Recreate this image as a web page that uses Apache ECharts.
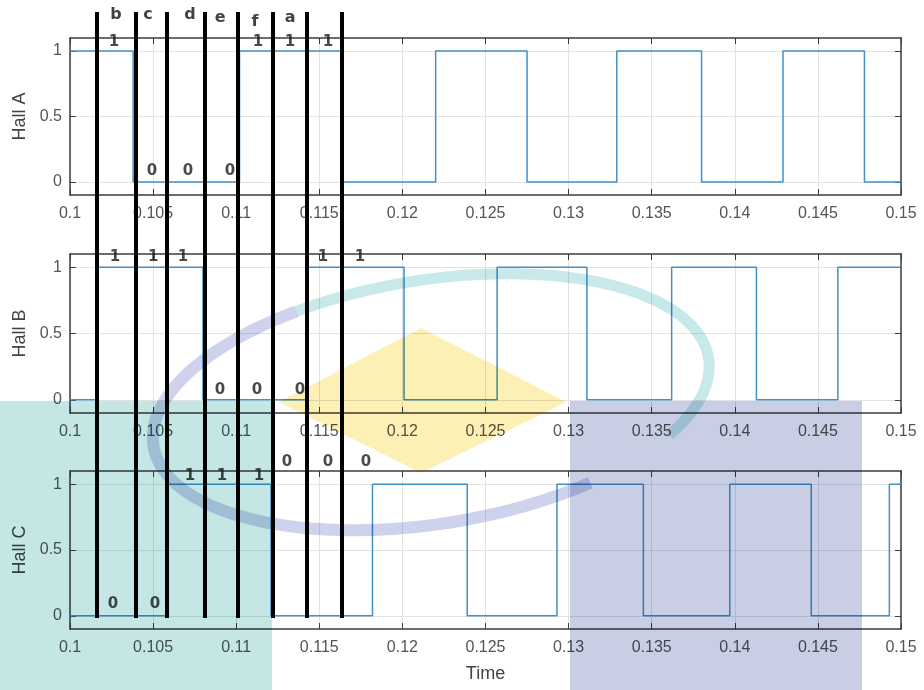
<!DOCTYPE html>
<html>
<head>
<meta charset="utf-8">
<script src="https://cdn.jsdelivr.net/npm/echarts@6/dist/echarts.min.js"></script>
<style>
  html, body { margin: 0; padding: 0; background: #fff; }
  #chart { width: 924px; height: 690px; }
</style>
</head>
<body>
<div id="chart"></div>
<script>
(function () {
  'use strict';

  // Hall sensor signals: time of each level change and the level held from there
  const hallATimes = [0.1, 0.1038, 0.1102, 0.1163, 0.1220, 0.1275, 0.1329, 0.1380, 0.1429, 0.1478, 0.15];
  const hallALevels = [1, 0, 1, 0, 1, 0, 1, 0, 1, 0, 0];
  const hallBTimes = [0.1, 0.1017, 0.1080, 0.1143, 0.1201, 0.1257, 0.1311, 0.1362, 0.1413, 0.1462, 0.15];
  const hallBLevels = [0, 1, 0, 1, 0, 1, 0, 1, 0, 1, 1];
  const hallCTimes = [0.1, 0.1059, 0.1121, 0.1182, 0.1239, 0.1293, 0.1345, 0.1397, 0.1446, 0.1493, 0.15];
  const hallCLevels = [0, 1, 0, 1, 0, 1, 0, 1, 0, 1, 1];

  const hallNames = ['Hall A', 'Hall B', 'Hall C'];
  const yTickValues = [0, 0.5, 1];

  // black cursor lines and the step letters between them
  const cursorTimes = [0.10162, 0.10397, 0.10584, 0.10812, 0.11011, 0.11221, 0.11426, 0.11637];
  const stepLetters = ['b', 'c', 'd', 'e', 'f', 'a'];
  const letterTimes = [0.10277, 0.10469, 0.10722, 0.10903, 0.11113, 0.11324];
  const letterLevels = [0.995, 0.995, 0.995, 0.991, 0.983, 0.991];

  // written 1/0 states
  const hallANoteTimes = [0.10265, 0.10493, 0.10710, 0.10963, 0.11131, 0.11324, 0.11552];
  const hallANoteLevels = [1.07, 0.08, 0.08, 0.08, 1.07, 1.07, 1.07];
  const hallANoteTexts = ['1', '0', '0', '0', '1', '1', '1'];
  const hallBNoteTimes = [0.10271, 0.10500, 0.10680, 0.10903, 0.11125, 0.11384, 0.11522, 0.11745];
  const hallBNoteLevels = [1.08, 1.08, 1.08, 0.07, 0.07, 0.07, 1.08, 1.08];
  const hallBNoteTexts = ['1', '1', '1', '0', '0', '0', '1', '1'];
  const hallCNoteTimes = [0.10259, 0.10511, 0.10722, 0.10915, 0.11137, 0.11306, 0.11552, 0.11781];
  const hallCNoteLevels = [0.09, 0.09, 1.06, 1.06, 1.06, 1.17, 1.17, 1.17];
  const hallCNoteTexts = ['0', '0', '1', '1', '1', '0', '0', '0'];

  const signals = [
    [hallATimes, hallALevels],
    [hallBTimes, hallBLevels],
    [hallCTimes, hallCLevels]
  ];
  const notes = [
    [hallANoteTimes, hallANoteLevels, hallANoteTexts],
    [hallBNoteTimes, hallBNoteLevels, hallBNoteTexts],
    [hallCNoteTimes, hallCNoteLevels, hallCNoteTexts]
  ];

  const font = '"Liberation Sans", Arial, sans-serif';
  const boxColor = '#3c3c3c';
  const labelColor = '#555';
  const gridColor = '#e3e3e3';
  const signalColor = '#4190c6';

  const grids = [
    { left: 70, right: 23, top: 38, height: 157 },
    { left: 70, right: 23, top: 254, height: 159 },
    { left: 70, right: 23, top: 471, height: 158 },
    { left: 70, right: 23, top: 12, bottom: 72 }
  ];

  const fmtX = v => String(parseFloat(v.toFixed(3)));

  const xAxis = [];
  const yAxis = [];
  for (let i = 0; i < 3; i++) {
    xAxis.push({
      gridIndex: i, type: 'value', min: 0.1, max: 0.15, interval: 0.005, position: 'bottom',
      axisLine: { onZero: false, lineStyle: { color: boxColor, width: 1.5 } },
      axisTick: { inside: true, length: 6, lineStyle: { color: boxColor } },
      axisLabel: { formatter: fmtX, color: labelColor, fontSize: 16, fontFamily: font, margin: 11 },
      splitLine: { show: true, lineStyle: { color: gridColor } },
      name: i === 2 ? 'Time' : '', nameLocation: 'middle', nameGap: 36,
      nameTextStyle: { color: '#444', fontSize: 18, fontFamily: font }
    });
  }
  for (let i = 0; i < 3; i++) {
    xAxis.push({
      gridIndex: i, type: 'value', min: 0.1, max: 0.15, interval: 0.005, position: 'top',
      axisLine: { onZero: false, lineStyle: { color: boxColor, width: 1.5 } },
      axisTick: { inside: true, length: 6, lineStyle: { color: boxColor } },
      axisLabel: { show: false }, splitLine: { show: false }
    });
  }
  xAxis.push({ gridIndex: 3, type: 'value', min: 0.1, max: 0.15, show: false });

  for (let i = 0; i < 3; i++) {
    yAxis.push({
      gridIndex: i, type: 'value', min: -0.1, max: 1.1, position: 'left',
      axisLine: { show: true, onZero: false, lineStyle: { color: boxColor, width: 1.5 } },
      axisTick: { show: true, inside: true, length: 6, customValues: yTickValues, lineStyle: { color: boxColor } },
      axisLabel: { customValues: yTickValues, color: labelColor, fontSize: 16, fontFamily: font, margin: 8 },
      splitLine: { show: true, customValues: yTickValues, lineStyle: { color: gridColor } },
      name: hallNames[i], nameLocation: 'middle', nameGap: 37, nameRotate: 90,
      nameTextStyle: { color: '#444', fontSize: 18, fontFamily: font }
    });
  }
  for (let i = 0; i < 3; i++) {
    yAxis.push({
      gridIndex: i, type: 'value', min: -0.1, max: 1.1, position: 'right',
      axisLine: { show: true, onZero: false, lineStyle: { color: boxColor, width: 1.5 } },
      axisTick: { show: true, inside: true, length: 6, customValues: yTickValues, lineStyle: { color: boxColor } },
      axisLabel: { show: false }, splitLine: { show: false }
    });
  }
  yAxis.push({ gridIndex: 3, type: 'value', min: 0, max: 1, show: false });

  const series = [];
  signals.forEach(([times, levels], i) => {
    series.push({
      type: 'line', xAxisIndex: i, yAxisIndex: i, step: 'end', showSymbol: false,
      lineStyle: { color: signalColor, width: 1.5 },
      data: times.map((t, k) => [t, levels[k]])
    });
  });
  notes.forEach(([times, levels, texts], i) => {
    series.push({
      type: 'scatter', xAxisIndex: i, yAxisIndex: i, symbolSize: 1, clip: false, z: 5,
      itemStyle: { color: 'transparent' },
      label: {
        show: true, position: 'inside', formatter: p => p.data[2],
        color: '#1c1c1c', fontSize: 15, fontWeight: 'bold', fontFamily: '"DejaVu Sans", sans-serif'
      },
      data: times.map((t, k) => [t, levels[k], texts[k]])
    });
  });
  series.push({
    type: 'scatter', xAxisIndex: 6, yAxisIndex: 6, symbolSize: 1, clip: false, z: 6,
    itemStyle: { color: 'transparent' },
    label: {
      show: true, position: 'inside', formatter: p => p.data[2],
      color: '#111', fontSize: 16, fontWeight: 'bold', fontFamily: '"DejaVu Sans", sans-serif'
    },
    data: letterTimes.map((t, k) => [t, letterLevels[k], stepLetters[k]]),
    markLine: {
      silent: true, symbol: 'none', animation: false, precision: 6,
      label: { show: false },
      lineStyle: { color: '#000', width: 4, type: 'solid' },
      data: cursorTimes.map(t => ({ xAxis: t }))
    }
  });

  // faded logo watermark multiplied over the figure
  function ringPoints(cx, cy, rx, ry, rotDeg, a0, a1) {
    const phi = rotDeg * Math.PI / 180;
    const pts = [];
    const step = a1 > a0 ? 2 : -2;
    for (let a = a0; step > 0 ? a <= a1 : a >= a1; a += step) {
      const th = a * Math.PI / 180;
      const x = rx * Math.cos(th), y = ry * Math.sin(th);
      pts.push([cx + x * Math.cos(phi) - y * Math.sin(phi), cy + x * Math.sin(phi) + y * Math.cos(phi)]);
    }
    return pts;
  }

  const graphic = [
    { type: 'rect', z: 100, silent: true, shape: { x: 0, y: 401, width: 272, height: 289 },
      style: { fill: '#c4e7e5', blend: 'multiply' } },
    { type: 'rect', z: 100, silent: true, shape: { x: 570, y: 401, width: 292, height: 289 },
      style: { fill: '#c8cfe4', blend: 'multiply' } },
    { type: 'polygon', z: 100, silent: true, shape: { points: [[421, 328], [566, 402], [421, 473], [279, 402]] },
      style: { fill: '#fcf0b4', blend: 'multiply' } },
    { type: 'polyline', z: 101, silent: true, shape: { points: ringPoints(431, 402, 281, 122, -9, -115, 35) },
      style: { stroke: '#c8e9e9', lineWidth: 11, fill: null, blend: 'multiply' } },
    { type: 'polyline', z: 101, silent: true, shape: { points: ringPoints(431, 402, 281, 122, -9, -115, -302) },
      style: { stroke: '#cfd2ec', lineWidth: 12, fill: null, blend: 'multiply' } }
  ];

  const chart = echarts.init(document.getElementById('chart'));
  chart.setOption({
    animation: false,
    backgroundColor: '#fff',
    grid: grids,
    xAxis: xAxis,
    yAxis: yAxis,
    series: series,
    graphic: graphic
  });
})();
</script>
</body>
</html>
